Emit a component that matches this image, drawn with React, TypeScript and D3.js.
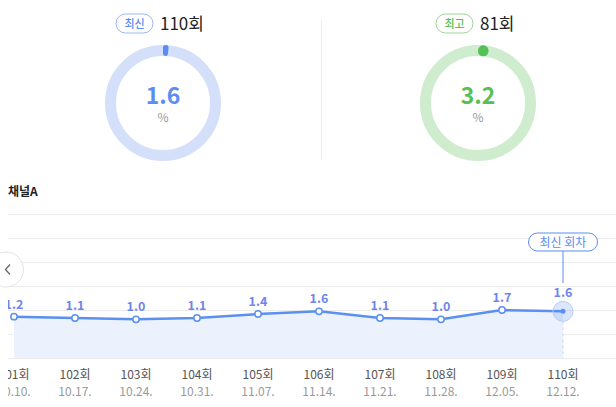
import * as d3 from 'd3'
import { useEffect, useRef } from 'react'

const rounds = ['101회', '102회', '103회', '104회', '105회', '106회', '107회', '108회', '109회', '110회']
const dates = ['10.10.', '10.17.', '10.24.', '10.31.', '11.07.', '11.14.', '11.21.', '11.28.', '12.05.', '12.12.']
const ratings = [1.2, 1.1, 1.0, 1.1, 1.4, 1.6, 1.1, 1.0, 1.7, 1.6]
const gridValues = [-1.9, -0.1, 1.7, 3.5, 5.3, 7.1, 8.9]

const latest = { badge: '최신', round: '110회', value: 1.6 }
const best = { badge: '최고', round: '81회', value: 3.2 }

const FONT = '"Noto Sans CJK KR", "Noto Sans", sans-serif'

export default function App() {
  const svgRef = useRef<SVGSVGElement | null>(null)

  useEffect(() => {
    if (!svgRef.current) return
    const svg = d3.select(svgRef.current)
    svg.selectAll('*').remove()
    svg.attr('font-family', FONT)

    // donuts
    const donuts = [
      { d: latest, cx: 163, main: '#5b8def', track: '#d4e0f9', pillStroke: '#9ab8f2', pillX: 116 },
      { d: best, cx: 478, main: '#55c155', track: '#cfeccf', pillStroke: '#9ad79a', pillX: 436 },
    ]
    const arc = d3.arc<any>().innerRadius(47).outerRadius(58).cornerRadius(5.5)
    donuts.forEach(({ d, cx, main, track, pillStroke, pillX }) => {
      const g = svg.append('g').attr('transform', `translate(${cx},103)`)
      g.append('circle').attr('r', 52.5).attr('fill', 'none').attr('stroke', track).attr('stroke-width', 11)
      g.append('path')
        .attr('d', arc({ startAngle: 0, endAngle: (d.value / 100) * Math.PI * 2 }))
        .attr('fill', main)
      g.append('text').attr('text-anchor', 'middle').attr('y', 1).attr('font-size', 23)
        .attr('font-weight', 700).attr('fill', main).text(d.value.toFixed(1))
      g.append('text').attr('text-anchor', 'middle').attr('y', 19).attr('font-size', 12)
        .attr('fill', '#999').text('%')

      svg.append('rect').attr('x', pillX).attr('y', 14).attr('width', 37).attr('height', 19)
        .attr('rx', 9.5).attr('fill', '#fff').attr('stroke', pillStroke)
      svg.append('text').attr('x', pillX + 18.5).attr('y', 27.5).attr('text-anchor', 'middle')
        .attr('font-size', 11).attr('font-weight', 500).attr('fill', main).text(d.badge)
      svg.append('text').attr('x', pillX + 44).attr('y', 30).attr('font-size', 17)
        .attr('fill', '#222').text(d.round)
    })

    svg.append('line').attr('x1', 321.5).attr('x2', 321.5).attr('y1', 20).attr('y2', 160)
      .attr('stroke', '#efefef')

    svg.append('text').attr('x', 8).attr('y', 196).attr('font-size', 12).attr('font-weight', 700)
      .attr('fill', '#222').text('채널A')

    // line chart
    const x = d3.scalePoint<string>().domain(rounds).range([14, 563])
    const y = d3.scaleLinear().domain([-1.9, 8.9]).range([358, 214])

    svg.append('defs').append('clipPath').attr('id', 'plotClip')
      .append('rect').attr('x', 8).attr('y', 200).attr('width', 608).attr('height', 207)

    const plot = svg.append('g').attr('clip-path', 'url(#plotClip)')

    plot.selectAll('line.grid').data(gridValues).join('line')
      .attr('class', 'grid')
      .attr('x1', 8).attr('x2', 616)
      .attr('y1', (v) => Math.round(y(v)) + 0.5).attr('y2', (v) => Math.round(y(v)) + 0.5)
      .attr('stroke', '#ececec')

    const pts = ratings.map((v, i) => ({ v, r: rounds[i], dt: dates[i] }))
    const area = d3.area<any>().x((p) => x(p.r)!).y0(y(-1.9)).y1((p) => y(p.v))
    const line = d3.line<any>().x((p) => x(p.r)!).y((p) => y(p.v))

    plot.append('path').attr('d', area(pts)).attr('fill', '#ebf2fd')
    plot.append('path').attr('d', line(pts)).attr('fill', 'none').attr('stroke', '#5b8ff0')
      .attr('stroke-width', 2.5)

    const last = pts[pts.length - 1]
    const lx = x(last.r)!
    const ly = y(last.v)
    plot.append('line').attr('x1', lx).attr('x2', lx).attr('y1', ly + 10).attr('y2', 358)
      .attr('stroke', '#c6d7f8').attr('stroke-dasharray', '3,3')

    plot.selectAll('circle.pt').data(pts.slice(0, -1)).join('circle')
      .attr('class', 'pt')
      .attr('cx', (p) => x(p.r)!).attr('cy', (p) => y(p.v)).attr('r', 3.2)
      .attr('fill', '#fff').attr('stroke', '#5b8ff0').attr('stroke-width', 1.5)

    plot.append('circle').attr('cx', lx).attr('cy', ly).attr('r', 10)
      .attr('fill', '#5b8ff0').attr('fill-opacity', 0.22).attr('stroke', '#b9cff7')
    plot.append('circle').attr('cx', lx).attr('cy', ly).attr('r', 2.5).attr('fill', '#5b8ff0')

    plot.selectAll('text.val').data(pts).join('text')
      .attr('class', 'val')
      .attr('x', (p) => x(p.r)!)
      .attr('y', (p, i) => y(p.v) - (i === pts.length - 1 ? 14 : 8))
      .attr('text-anchor', 'middle').attr('font-size', 12.5).attr('font-weight', 700)
      .attr('fill', '#6f86e8').text((p) => p.v.toFixed(1))

    plot.selectAll('text.rnd').data(pts).join('text')
      .attr('class', 'rnd')
      .attr('x', (p) => x(p.r)!).attr('y', 379).attr('text-anchor', 'middle')
      .attr('font-size', 12).attr('fill', '#555').text((p) => p.r)

    plot.selectAll('text.dt').data(pts).join('text')
      .attr('class', 'dt')
      .attr('x', (p) => x(p.r)!).attr('y', 396).attr('text-anchor', 'middle')
      .attr('font-size', 12).attr('fill', '#999').text((p) => p.dt)

    // latest callout
    svg.append('line').attr('x1', lx).attr('x2', lx).attr('y1', 251).attr('y2', 283)
      .attr('stroke', '#5b8def')
    svg.append('rect').attr('x', lx - 34.5).attr('y', 233).attr('width', 69).attr('height', 18)
      .attr('rx', 9).attr('fill', '#fff').attr('stroke', '#5b8def')
    svg.append('text').attr('x', lx).attr('y', 246.5).attr('text-anchor', 'middle')
      .attr('font-size', 12).attr('fill', '#5b8def').text('최신 회차')

    // nav button
    svg.append('circle').attr('cx', 6).attr('cy', 269.5).attr('r', 17.5)
      .attr('fill', '#fff').attr('stroke', '#e3e3e3')
    svg.append('path').attr('d', 'M10 264.5 L5.5 269.5 L10 274.5').attr('fill', 'none')
      .attr('stroke', '#666').attr('stroke-width', 1.3)
  }, [])

  return (
    <div style={{ position: 'fixed', left: 0, top: 0, width: 616, height: 407, background: '#fff' }}>
      <svg ref={svgRef} width={616} height={407} style={{ display: 'block' }} />
    </div>
  )
}
